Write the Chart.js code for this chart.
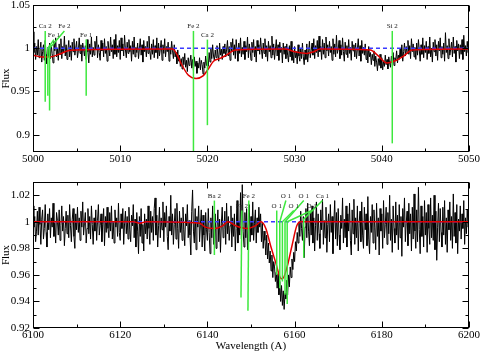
<!DOCTYPE html>
<html>
<head>
<meta charset="utf-8">
<title>Flux</title>
<script src="https://cdn.jsdelivr.net/npm/chart.js@4/dist/chart.umd.min.js"></script>
<style>
  html, body { margin: 0; padding: 0; background: #fff; }
  #wrap { position: relative; width: 480px; height: 353px; }
  #topChart { position: absolute; left: 0; top: 0; }
  #bottomChart { position: absolute; left: 0; top: 175px; }
</style>
</head>
<body>
<div id="wrap">
  <canvas id="topChart" width="480" height="175"></canvas>
  <canvas id="bottomChart" width="480" height="178"></canvas>
</div>
<script>
// ---- top panel (5000-5050 A) ----
// observed spectrum, one row per Angstrom, sampled every 0.1 A from 5000
const topWaveStart = 5000;
const topWaveStep = 0.1;
const topFlux = [
  1.019, 0.995, 1.006, 0.987, 1.002, 0.992, 1.010, 0.989, 0.998, 1.007,
  0.984, 0.996, 1.004, 0.986, 1.009, 0.993, 0.982, 1.001, 0.990, 1.006,
  0.988, 1.003, 0.994, 0.983, 1.008, 0.997, 1.012, 0.990, 0.999, 0.986,
  1.005, 0.993, 1.011, 0.988, 1.002, 0.995, 1.014, 0.991, 1.004, 0.987,
  0.998, 1.009, 0.990, 1.003, 0.986, 1.007, 0.996, 1.011, 0.992, 1.000,
  1.008, 0.989, 0.997, 1.012, 0.994, 1.004, 0.985, 1.006, 0.999, 0.991,
  1.003, 0.987, 1.010, 0.996, 0.983, 1.005, 0.993, 1.013, 0.990, 1.001,
  0.992, 1.008, 0.998, 1.014, 0.989, 1.004, 0.995, 0.986, 1.009, 0.997,
  1.006, 0.990, 1.011, 0.994, 1.002, 0.985, 1.008, 0.999, 0.991, 1.013,
  0.996, 1.004, 0.988, 1.010, 0.993, 1.016, 0.990, 1.003, 0.995, 1.009,
  0.987, 1.012, 0.997, 1.005, 0.991, 1.015, 0.998, 0.989, 1.007, 0.994,
  1.010, 0.996, 1.003, 0.985, 1.008, 0.993, 1.013, 0.990, 1.001, 0.995,
  1.006, 0.988, 0.999, 1.011, 0.992, 1.004, 0.984, 1.009, 0.996, 1.002,
  0.990, 1.008, 0.994, 1.014, 0.997, 0.987, 1.005, 0.993, 1.010, 0.989,
  1.003, 0.995, 1.012, 0.988, 1.006, 0.991, 0.999, 1.009, 0.986, 1.004,
  0.994, 1.011, 0.990, 1.002, 0.996, 1.007, 0.985, 1.001, 0.993, 1.008,
  0.997, 0.988, 1.004, 0.990, 0.995, 0.982, 0.998, 0.985, 0.992, 0.979,
  0.988, 0.976, 0.990, 0.981, 0.994, 0.978, 0.986, 0.973, 0.989, 0.980,
  0.984, 0.992, 0.977, 0.987, 0.974, 0.990, 0.979, 0.985, 0.971, 0.983,
  0.977, 0.989, 0.975, 0.986, 0.981, 0.970, 0.984, 0.977, 0.991, 0.980,
  0.988, 0.979, 0.995, 0.984, 0.999, 0.988, 1.004, 0.991, 0.986, 0.998,
  0.989, 1.003, 0.993, 0.985, 1.006, 0.992, 0.999, 0.987, 1.002, 0.994,
  1.005, 0.990, 0.998, 1.009, 0.991, 1.002, 0.986, 1.007, 0.996, 1.011,
  0.992, 1.004, 0.988, 1.010, 0.997, 0.985, 1.006, 0.994, 1.012, 0.990,
  1.001, 0.993, 1.008, 0.987, 1.003, 0.996, 1.013, 0.989, 1.005, 0.998,
  0.986, 1.007, 0.995, 1.010, 0.990, 1.002, 0.984, 1.009, 0.997, 1.004,
  0.993, 1.012, 0.998, 0.988, 1.006, 0.994, 1.011, 0.990, 1.003, 0.985,
  1.008, 0.996, 1.003, 0.989, 1.014, 0.992, 1.005, 0.987, 0.999, 1.010,
  0.991, 1.004, 0.986, 1.007, 0.995, 1.001, 0.983, 1.006, 0.993, 1.002,
  0.988, 1.005, 0.992, 0.984, 1.003, 0.990, 1.008, 0.986, 0.997, 0.983,
  1.002, 0.989, 0.996, 0.982, 1.004, 0.991, 0.985, 1.000, 0.988, 1.006,
  0.990, 0.981, 0.998, 0.987, 1.005, 0.984, 0.995, 1.008, 0.989, 0.997,
  1.006, 0.992, 1.011, 0.988, 1.003, 0.995, 1.009, 0.990, 1.014, 0.996,
  1.002, 0.987, 1.010, 0.993, 1.006, 0.989, 1.013, 0.997, 1.004, 0.991,
  1.008, 0.995, 1.002, 0.986, 1.011, 0.993, 1.005, 0.990, 1.015, 0.994,
  0.999, 1.009, 0.988, 1.004, 0.992, 1.012, 0.996, 0.985, 1.007, 0.993,
  1.003, 0.989, 1.010, 0.994, 1.001, 0.986, 1.008, 0.997, 1.004, 0.990,
  1.006, 0.988, 0.999, 1.011, 0.991, 1.003, 0.985, 1.009, 0.994, 1.001,
  0.992, 1.005, 0.987, 0.998, 0.983, 1.002, 0.990, 0.995, 0.981, 0.993,
  0.986, 0.997, 0.979, 0.991, 0.984, 0.974, 0.988, 0.980, 0.993, 0.977,
  0.989, 0.975, 0.985, 0.979, 0.992, 0.981, 0.987, 0.976, 0.990, 0.983,
  0.978, 0.991, 0.984, 0.995, 0.980, 0.989, 0.986, 0.997, 0.983, 0.992,
  0.987, 0.999, 0.990, 1.004, 0.985, 0.996, 1.006, 0.991, 1.002, 0.994,
  1.009, 0.993, 1.003, 0.988, 1.011, 0.996, 1.005, 0.990, 1.001, 0.987,
  1.006, 0.992, 1.010, 0.998, 0.985, 1.004, 0.993, 1.012, 0.989, 1.003,
  0.995, 1.008, 0.987, 1.002, 0.994, 1.013, 0.990, 1.000, 0.984, 1.007,
  0.996, 1.010, 0.991, 1.004, 0.986, 1.008, 0.997, 1.012, 0.989, 1.002,
  0.993, 1.006, 0.985, 1.018, 0.995, 1.003, 0.988, 1.011, 0.992, 0.999,
  1.007, 0.990, 1.013, 0.994, 1.002, 0.984, 1.009, 0.997, 1.005, 0.988,
  1.004, 0.993, 1.010, 0.987, 1.015, 0.996, 1.003, 0.991, 1.008, 0.995,
  1.001
];
// synthetic (model) spectrum, red
const topModelWave = [5000, 5001, 5002, 5003, 5004, 5005, 5016, 5016.5, 5017, 5017.8, 5018.7, 5019.5, 5020.1, 5020.7, 5021.4, 5022, 5022.6, 5023.2, 5028.9, 5030, 5031.4, 5032.2, 5032.9, 5038.7, 5039.5, 5040.6, 5041.4, 5042.5, 5043.5, 5050];
const topModelFlux = [0.992, 0.990, 0.990, 0.993, 0.997, 0.998, 0.999, 0.993, 0.982, 0.969, 0.965, 0.968, 0.976, 0.985, 0.988, 0.991, 0.995, 0.998, 0.999, 0.996, 0.994, 0.996, 0.999, 0.998, 0.992, 0.983, 0.985, 0.991, 0.998, 0.999];
const topContWave = [5000, 5050];
const topContFlux = [1, 1];
// line identifications
const topIdLabel = ["Ca 2", "Fe 1", "Fe 2", "Fe 1", "Fe 2", "Ca 2", "Si 2"];
const topIdWave = [5001.4, 5001.7, 5001.9, 5006.1, 5018.4, 5020.0, 5041.2];
const topIdDepth = [0.938, 0.945, 0.928, 0.945, 0.88, 0.911, 0.890];
const topIdBend = [null, 1.0, 1.0, null, null, null, null];
const topIdLabelWave = [5001.4, 5002.4, 5003.6, 5006.1, 5018.4, 5020.0, 5041.2];
const topIdLabelFlux = [1.020, 1.010, 1.020, 1.010, 1.020, 1.010, 1.020];
const topXTicks = [5000, 5010, 5020, 5030, 5040, 5050];
const topXMinor = [5005, 5015, 5025, 5035, 5045];
const topYTicks = [0.9, 0.95, 1, 1.05];
const topYMinor = [0.925, 0.975, 1.025];

// ---- bottom panel (6100-6200 A) ----
// observed spectrum, one row per 2 A, sampled every 0.2 A from 6100
const botWaveStart = 6100;
const botWaveStep = 0.2;
const botFlux = [
  1.012, 0.996, 1.004, 0.985, 0.993, 1.008, 0.990, 1.011, 0.998, 0.983,
  1.002, 1.009, 0.987, 0.995, 1.013, 0.992, 0.981, 1.006, 0.994, 1.010,
  0.988, 1.003, 0.996, 1.014, 0.989, 0.999, 0.984, 1.007, 1.001, 0.990,
  1.009, 0.986, 0.997, 1.012, 0.993, 1.004, 0.982, 0.995, 1.008, 0.991,
  1.005, 0.988, 1.013, 0.997, 0.985, 1.002, 1.010, 0.989, 0.980, 1.006,
  0.994, 1.011, 0.992, 1.003, 0.986, 1.008, 0.996, 1.015, 0.990, 0.999,
  1.007, 0.984, 0.995, 1.010, 0.991, 1.004, 0.987, 1.012, 0.998, 0.983,
  1.003, 0.993, 1.009, 0.986, 1.001, 1.013, 0.990, 0.997, 1.006, 0.985,
  0.998, 1.010, 0.982, 1.004, 0.992, 1.011, 0.995, 0.988, 1.007, 0.993,
  1.012, 0.987, 1.000, 0.984, 1.009, 0.996, 1.003, 0.989, 1.014, 0.992,
  0.986, 1.006, 0.995, 1.010, 0.983, 0.999, 1.008, 0.991, 1.004, 0.987,
  1.011, 0.994, 0.985, 1.005, 0.997, 1.013, 0.988, 1.002, 0.981, 1.007,
  0.993, 0.976, 1.004, 0.989, 1.010, 0.984, 0.998, 0.978, 1.006, 0.991,
  1.002, 0.987, 1.012, 0.995, 0.983, 1.008, 0.992, 1.004, 0.986, 1.010,
  1.018, 0.990, 1.005, 0.981, 0.997, 1.011, 0.988, 1.003, 0.994, 1.015,
  0.985, 1.007, 0.996, 1.012, 0.989, 0.979, 1.004, 0.993, 1.020, 0.990,
  1.006, 0.983, 0.998, 1.010, 0.987, 1.014, 0.995, 0.980, 1.008, 0.992,
  1.003, 0.986, 1.011, 0.994, 0.982, 1.006, 0.997, 1.013, 0.988, 1.001,
  0.990, 0.975, 1.008, 1.024, 0.993, 0.984, 1.010, 0.979, 1.004, 0.996,
  1.012, 0.985, 0.998, 1.009, 0.981, 1.005, 0.990, 0.978, 1.007, 0.994,
  0.986, 1.010, 0.992, 0.976, 1.003, 0.988, 1.012, 0.983, 0.997, 1.006,
  0.980, 0.995, 1.009, 0.985, 1.002, 0.977, 0.999, 1.011, 0.988, 0.994,
  1.008, 0.983, 1.014, 0.991, 1.004, 0.986, 0.997, 1.012, 0.981, 1.003,
  0.989, 1.006, 0.978, 0.995, 1.016, 0.984, 1.000, 0.990, 1.022, 0.987,
  1.028, 0.993, 0.981, 1.007, 0.988, 1.010, 0.979, 0.996, 1.013, 0.985,
  1.004, 0.990, 1.015, 0.986, 0.999, 1.009, 0.984, 1.003, 0.992, 1.011,
  0.996, 1.006, 0.985, 0.999, 0.980, 0.993, 0.986, 0.975, 0.990, 0.972,
  0.984, 0.969, 0.978, 0.963, 0.975, 0.958, 0.970, 0.966, 0.955, 0.962,
  0.950, 0.961, 0.945, 0.955, 0.940, 0.952, 0.937, 0.948, 0.934, 0.946,
  0.942, 0.956, 0.945, 0.960, 0.951, 0.966, 0.958, 0.972, 0.964, 0.977,
  0.970, 0.985, 0.978, 0.992, 0.984, 1.000, 0.989, 1.008, 0.995, 0.986,
  1.004, 0.973, 0.996, 1.010, 0.988, 1.014, 0.993, 0.982, 1.007, 0.990,
  1.012, 0.984, 1.003, 0.978, 0.997, 1.015, 0.986, 1.006, 0.991, 0.980,
  1.009, 0.994, 1.017, 0.983, 1.001, 0.988, 1.011, 0.977, 0.998, 1.006,
  0.985, 1.013, 0.992, 1.004, 0.976, 0.999, 1.016, 0.987, 1.007, 0.982,
  1.010, 0.990, 0.979, 1.005, 0.995, 1.018, 0.984, 1.002, 0.988, 1.012,
  0.981, 1.006, 0.993, 1.014, 0.986, 0.975, 1.009, 0.991, 1.017, 0.983,
  1.003, 0.988, 1.012, 0.978, 0.999, 1.008, 0.985, 1.015, 0.990, 0.980,
  1.011, 0.994, 1.006, 0.982, 1.019, 0.987, 0.976, 1.004, 0.992, 1.013,
  0.984, 1.009, 0.996, 0.979, 1.014, 0.989, 1.003, 0.975, 1.010, 0.993,
  1.006, 0.980, 1.016, 0.988, 0.998, 1.011, 0.983, 1.007, 0.991, 1.020,
  0.986, 1.002, 0.977, 1.012, 0.995, 0.984, 1.015, 0.990, 1.005, 0.979,
  1.013, 0.988, 1.004, 0.974, 1.010, 0.996, 1.018, 0.985, 0.999, 1.008,
  0.982, 1.014, 0.991, 1.006, 0.978, 1.011, 0.987, 1.021, 0.993, 0.980,
  1.009, 0.985, 1.026, 0.994, 0.976, 1.012, 0.989, 1.004, 0.981, 1.016,
  0.990, 1.007, 0.977, 1.013, 0.995, 0.983, 1.018, 0.988, 1.005, 0.986,
  1.020, 0.979, 1.008, 0.971, 0.996, 1.014, 0.985, 1.010, 0.992, 0.981,
  1.011, 0.990, 1.016, 0.983, 1.003, 0.977, 1.009, 0.994, 1.015, 0.986,
  1.004, 0.980, 1.021, 0.989, 1.007, 0.984, 1.013, 0.976, 1.002, 0.993,
  1.012, 0.987, 1.006, 0.995, 1.016, 0.983, 1.003, 0.991, 1.009, 0.996,
  1.000
];
const botModelWave = [6100, 6123, 6124.5, 6126, 6138.2, 6139.5, 6141.6, 6143.5, 6144.7, 6146.5, 6148.9, 6151, 6152.3, 6153.4, 6154.5, 6155.6, 6156.7, 6157.2, 6158.2, 6159.4, 6160.5, 6161.5, 6200];
const botModelFlux = [1.0, 1.0, 0.999, 1.0, 0.999, 0.996, 0.995, 0.997, 1.0, 0.997, 0.995, 0.997, 1.0, 0.995, 0.982, 0.970, 0.958, 0.957, 0.965, 0.982, 0.997, 1.0, 1.0];
const botContWave = [6100, 6200];
const botContFlux = [1, 1];
const botIdLabel = ["Ba 2", "Fe 2", "Fe 2", "O 1", "O 1", "O 1", "O 1", "O 1", "Ca 1"];
const botIdWave = [6141.6, 6147.7, 6149.3, 6155.9, 6156.6, 6157.2, 6157.8, 6158.3, 6162.1];
const botIdDepth = [0.975, 0.943, 0.933, 0.960, 0.950, 0.955, 0.945, 0.938, 0.973];
const botIdBend = [null, null, null, null, 1.0, 1.0, 1.0, 1.0, 1.002];
const botIdLabelWave = [6141.6, 6147.9, 6149.5, 6155.9, 6158.0, 6159.8, 6162.1, 6163.9, 6166.4];
const botIdLabelFlux = [1.016, 1.0085, 1.016, 1.0085, 1.016, 1.0085, 1.016, 1.0085, 1.016];
const botXTicks = [6100, 6120, 6140, 6160, 6180, 6200];
const botXMinor = [6110, 6130, 6150, 6170, 6190];
const botYTicks = [0.92, 0.94, 0.96, 0.98, 1, 1.02];
const botYMinor = [0.93, 0.95, 0.97, 0.99, 1.01, 1.03];

const serif = '"Liberation Serif", "Times New Roman", serif';
const lineGreen = '#3ee83e';

function spectrumPoints(start, step, flux) {
  return flux.map(function (f, i) { return { x: start + i * step, y: f }; });
}

function pairPoints(xs, ys) {
  return xs.map(function (x, i) { return { x: x, y: ys[i] }; });
}

// one green dataset per identified line: vertical mark, optional bend, leader to label
function idDatasets(wave, depth, bend, labelWave, labelFlux) {
  return wave.map(function (w, i) {
    var pts = [{ x: w, y: depth[i] }];
    if (bend[i] !== null) pts.push({ x: w, y: bend[i] });
    pts.push({ x: labelWave[i], y: labelFlux[i] });
    return { data: pts, borderColor: lineGreen, borderWidth: 1.5, pointRadius: 0, tension: 0 };
  });
}

// frame with inward ticks on all four sides, plus the line labels
const frameTicks = {
  id: 'frameTicks',
  afterDatasetsDraw(chart, args, opts) {
    const ctx = chart.ctx;
    const a = chart.chartArea;
    const x = chart.scales.x, y = chart.scales.y;
    const L = Math.round(a.left) + 0.5, R = Math.round(a.right) - 0.5;
    const T = Math.round(a.top) + 0.5, B = Math.round(a.bottom) - 0.5;
    ctx.save();
    ctx.strokeStyle = '#000';
    ctx.lineWidth = 1;
    ctx.strokeRect(L, T, R - L, B - T);
    function xTicks(vals, len) {
      vals.forEach(function (v) {
        const px = Math.round(x.getPixelForValue(v)) + 0.5;
        ctx.beginPath();
        ctx.moveTo(px, B); ctx.lineTo(px, B - len);
        ctx.moveTo(px, T); ctx.lineTo(px, T + len);
        ctx.stroke();
      });
    }
    function yTicks(vals, len) {
      vals.forEach(function (v) {
        const py = Math.round(y.getPixelForValue(v)) + 0.5;
        ctx.beginPath();
        ctx.moveTo(L, py); ctx.lineTo(L + len, py);
        ctx.moveTo(R, py); ctx.lineTo(R - len, py);
        ctx.stroke();
      });
    }
    xTicks(opts.xMajor, 6);
    xTicks(opts.xMinor, 3);
    yTicks(opts.yMajor, 6);
    yTicks(opts.yMinor, 3);

    ctx.fillStyle = '#222';
    ctx.font = '7px ' + serif;
    ctx.textAlign = 'center';
    ctx.textBaseline = 'bottom';
    opts.labels.forEach(function (t, i) {
      ctx.fillText(t, x.getPixelForValue(opts.labelWave[i]), y.getPixelForValue(opts.labelFlux[i]) - 1);
    });
    ctx.restore();
  }
};

function makeChart(id, p) {
  const tickFont = { family: serif, size: 11 };
  const datasets = idDatasets(p.idWave, p.idDepth, p.idBend, p.idLabelWave, p.idLabelFlux);
  datasets.push({ data: p.model, borderColor: '#e00000', borderWidth: 1.5, pointRadius: 0, cubicInterpolationMode: 'monotone' });
  datasets.push({ data: p.cont, borderColor: '#3a3aff', borderWidth: 1.5, borderDash: [4, 3], pointRadius: 0 });
  datasets.push({ data: p.spectrum, borderColor: '#000', borderWidth: 1, pointRadius: 0, tension: 0 });

  return new Chart(document.getElementById(id), {
    type: 'line',
    data: { datasets: datasets },
    options: {
      responsive: false,
      animation: false,
      events: [],
      layout: { padding: { top: p.padTop, right: 11, left: 0, bottom: 0 } },
      plugins: {
        legend: { display: false },
        tooltip: { enabled: false },
        frameTicks: {
          xMajor: p.xTicks, xMinor: p.xMinor, yMajor: p.yTicks, yMinor: p.yMinor,
          labels: p.idLabel, labelWave: p.idLabelWave, labelFlux: p.idLabelFlux
        }
      },
      scales: {
        x: {
          type: 'linear', min: p.xMin, max: p.xMax,
          afterBuildTicks: function (s) { s.ticks = p.xTicks.map(function (v) { return { value: v }; }); },
          afterFit: function (s) { s.height = p.xHeight; s.paddingLeft = 0; s.paddingRight = 0; },
          grid: { display: false, drawTicks: false },
          border: { display: false },
          ticks: { color: '#000', font: tickFont, padding: 1, maxRotation: 0, autoSkip: false, callback: function (v) { return String(v); } },
          title: { display: !!p.xTitle, text: p.xTitle, color: '#000', font: tickFont, padding: 0 }
        },
        y: {
          min: p.yMin, max: p.yMax,
          afterBuildTicks: function (s) { s.ticks = p.yTicks.map(function (v) { return { value: v }; }); },
          afterFit: function (s) { s.width = 33; s.paddingTop = 0; s.paddingBottom = 0; },
          grid: { display: false, drawTicks: false },
          border: { display: false },
          ticks: { color: '#000', font: tickFont, padding: 3, autoSkip: false, callback: function (v) { return String(v); } },
          title: { display: true, text: 'Flux', color: '#000', font: tickFont, padding: 0 }
        }
      }
    },
    plugins: [frameTicks]
  });
}

makeChart('topChart', {
  spectrum: spectrumPoints(topWaveStart, topWaveStep, topFlux),
  model: pairPoints(topModelWave, topModelFlux),
  cont: pairPoints(topContWave, topContFlux),
  idLabel: topIdLabel, idWave: topIdWave, idDepth: topIdDepth, idBend: topIdBend,
  idLabelWave: topIdLabelWave, idLabelFlux: topIdLabelFlux,
  xMin: 5000, xMax: 5050, yMin: 0.88, yMax: 1.05,
  xTicks: topXTicks, xMinor: topXMinor, yTicks: topYTicks, yMinor: topYMinor,
  padTop: 5, xHeight: 23, xTitle: ''
});

makeChart('bottomChart', {
  spectrum: spectrumPoints(botWaveStart, botWaveStep, botFlux),
  model: pairPoints(botModelWave, botModelFlux),
  cont: pairPoints(botContWave, botContFlux),
  idLabel: botIdLabel, idWave: botIdWave, idDepth: botIdDepth, idBend: botIdBend,
  idLabelWave: botIdLabelWave, idLabelFlux: botIdLabelFlux,
  xMin: 6100, xMax: 6200, yMin: 0.92, yMax: 1.03,
  xTicks: botXTicks, xMinor: botXMinor, yTicks: botYTicks, yMinor: botYMinor,
  padTop: 7, xHeight: 25, xTitle: 'Wavelength (A)'
});
</script>
</body>
</html>
